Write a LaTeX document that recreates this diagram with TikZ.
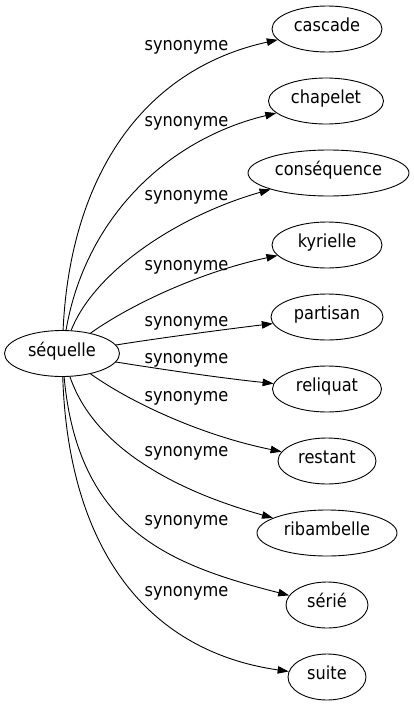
\documentclass[tikz,border=0pt]{standalone}
\usepackage{fontspec}
\setmainfont{DejaVu Sans Condensed}
\usetikzlibrary{shapes.geometric,arrows.meta}
\begin{document}
\begin{tikzpicture}[x=1pt,y=-1pt,
  word/.style={draw, ellipse, inner sep=0pt, minimum height=46pt,
    font=\fontsize{18}{21}\selectfont, text height=0.75em, text depth=0.2em, line width=0.9pt},
  edge/.style={draw, line width=0.9pt, -{Triangle[length=11pt,width=7.5pt]}},
  lab/.style={font=\fontsize{18}{21}\selectfont, inner sep=0pt}
]
\useasboundingbox (0,0) rectangle (414,707);
\node[word, minimum width=115pt] (s) at (62,353.5) {séquelle};
\node[word, minimum width=110pt] (n1) at (327,29) {cascade};
\node[word, minimum width=115pt] (n2) at (326,101) {chapelet};
\node[word, minimum width=161pt] (n3) at (328.5,173) {conséquence};
\node[word, minimum width=110pt] (n4) at (327,245) {kyrielle};
\node[word, minimum width=112pt] (n5) at (327,317) {partisan};
\node[word, minimum width=109pt] (n6) at (327,389) {reliquat};
\node[word, minimum width=98pt] (n7) at (327,461) {restant};
\node[word, minimum width=140pt] (n8) at (327,533) {ribambelle};
\node[word, minimum width=82pt] (n9) at (327,605) {sérié};
\node[word, minimum width=78pt] (n10) at (327,677) {suite};

\draw[edge] (s) .. controls (70,180) and (140,70) .. (n1);
\draw[edge] (s) .. controls (85,220) and (165,140) .. (n2);
\draw[edge] (s) .. controls (95,270) and (180,215) .. (n3);
\draw[edge] (s) .. controls (130,305) and (200,272) .. (n4);
\draw[edge] (s) .. controls (160,338) and (220,330) .. (n5);
\draw[edge] (s) .. controls (160,369) and (220,378) .. (n6);
\draw[edge] (s) .. controls (130,402) and (200,435) .. (n7);
\draw[edge] (s) .. controls (95,450) and (180,492) .. (n8);
\draw[edge] (s) .. controls (78,530) and (170,565) .. (n9);
\draw[edge] (s) .. controls (68,540) and (140,650) .. (n10);

\node[lab] (l1) at (186.5,47) {synonyme};
\node[lab] (l2) at (186.5,123) {synonyme};
\node[lab] (l3) at (186.5,197) {synonyme};
\node[lab] (l4) at (186.5,267) {synonyme};
\node[lab] (l5) at (186.5,323) {synonyme};
\node[lab] (l6) at (186.5,360) {synonyme};
\node[lab] (l7) at (186.5,398) {synonyme};
\node[lab] (l8) at (186.5,453) {synonyme};
\node[lab] (l9) at (186.5,522) {synonyme};
\node[lab] (l10) at (186.5,593) {synonyme};
\end{tikzpicture}
\end{document}
